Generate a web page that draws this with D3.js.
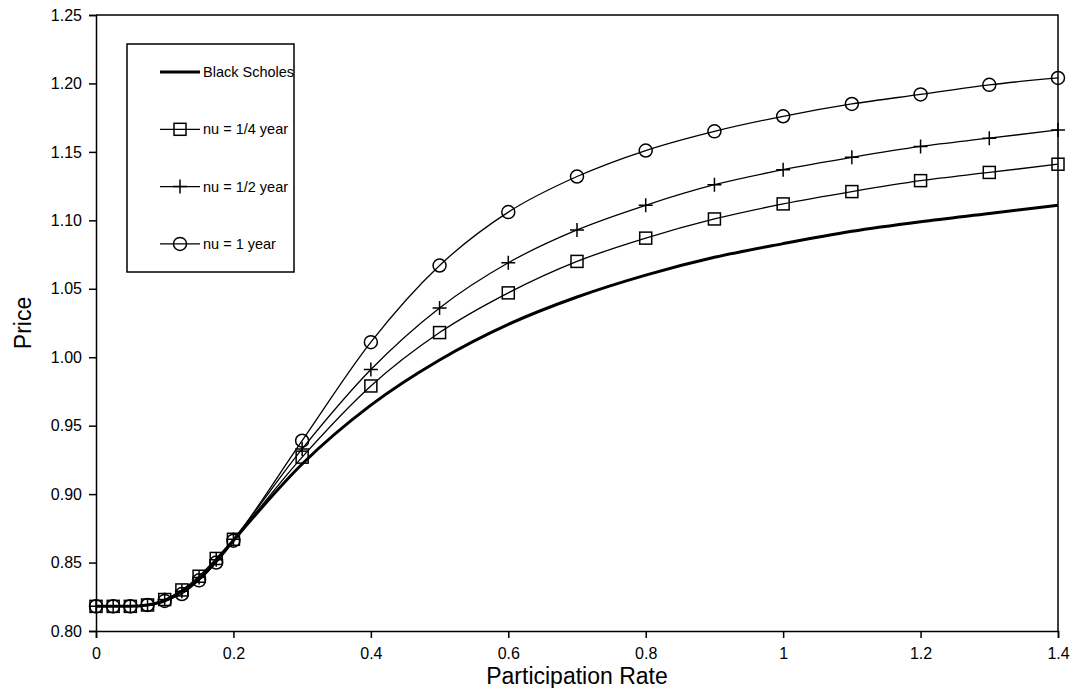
<!DOCTYPE html>
<html>
<head>
<meta charset="utf-8">
<script src="https://cdn.jsdelivr.net/npm/d3@7"></script>
<style>
  body { margin: 0; background: #fff; }
  text { font-family: Arial, "Liberation Sans", sans-serif; fill: #000; }
</style>
</head>
<body>
<svg id="chart" width="1071" height="688"></svg>
<script>
// participation rates
var rates = [0, 0.025, 0.05, 0.075, 0.1, 0.125, 0.15, 0.175, 0.2, 0.3, 0.4, 0.5, 0.6, 0.7, 0.8, 0.9, 1.0, 1.1, 1.2, 1.3, 1.4];

var blackScholes = [0.818, 0.818, 0.818, 0.819, 0.822, 0.829, 0.838, 0.851, 0.866, 0.922, 0.965, 0.998, 1.024, 1.044, 1.060, 1.073, 1.083, 1.092, 1.099, 1.105, 1.111];
var nuQuarter = [0.818, 0.818, 0.818, 0.819, 0.823, 0.830, 0.840, 0.853, 0.867, 0.927, 0.979, 1.018, 1.047, 1.070, 1.087, 1.101, 1.112, 1.121, 1.129, 1.135, 1.141];
var nuHalf = [0.818, 0.818, 0.818, 0.819, 0.823, 0.829, 0.839, 0.852, 0.867, 0.933, 0.991, 1.036, 1.069, 1.093, 1.111, 1.126, 1.137, 1.146, 1.154, 1.160, 1.166];
var nuOne = [0.818, 0.818, 0.818, 0.819, 0.822, 0.827, 0.837, 0.850, 0.866, 0.939, 1.011, 1.067, 1.106, 1.132, 1.151, 1.165, 1.176, 1.185, 1.192, 1.199, 1.204];

var xTicks = [0, 0.2, 0.4, 0.6, 0.8, 1, 1.2, 1.4];
var yTicks = [0.80, 0.85, 0.90, 0.95, 1.00, 1.05, 1.10, 1.15, 1.20, 1.25];

var series = [
  { name: "Black Scholes", values: blackScholes, marker: "none", width: 3 },
  { name: "nu = 1/4 year", values: nuQuarter, marker: "square", width: 1.3 },
  { name: "nu = 1/2 year", values: nuHalf, marker: "plus", width: 1.3 },
  { name: "nu = 1 year", values: nuOne, marker: "circle", width: 1.3 }
];

var svg = d3.select("#chart");
var margin = { left: 96, top: 15, right: 1058, bottom: 631 };

var x = d3.scaleLinear().domain([0, 1.4]).range([margin.left, margin.right]);
var y = d3.scaleLinear().domain([0.8, 1.25]).range([margin.bottom, margin.top]);

// axes
svg.append("g")
    .attr("transform", "translate(0," + margin.bottom + ")")
    .call(d3.axisBottom(x).tickValues(xTicks).tickSize(7).tickPadding(10).tickFormat(d3.format("")))
    .call(function (g) {
        g.select(".domain").attr("stroke-width", 1.5);
        g.selectAll(".tick line").attr("stroke-width", 1.5);
        g.selectAll("text").style("font-size", "16px").attr("font-family", null);
    });

svg.append("g")
    .attr("transform", "translate(" + margin.left + ",0)")
    .call(d3.axisLeft(y).tickValues(yTicks).tickSize(7).tickPadding(7).tickFormat(d3.format(".2f")))
    .call(function (g) {
        g.select(".domain").attr("stroke-width", 1.5);
        g.selectAll(".tick line").attr("stroke-width", 1.5);
        g.selectAll("text").style("font-size", "16px").attr("font-family", null);
    });

// frame top/right
svg.append("path")
    .attr("d", "M" + margin.left + "," + margin.top + "H" + margin.right + "V" + margin.bottom)
    .attr("fill", "none").attr("stroke", "#000").attr("stroke-width", 1.5);

// axis titles
svg.append("text")
    .attr("x", (margin.left + margin.right) / 2)
    .attr("y", 684)
    .attr("text-anchor", "middle")
    .style("font-size", "23px")
    .text("Participation Rate");

svg.append("text")
    .attr("transform", "translate(31," + ((margin.top + margin.bottom) / 2) + ") rotate(-90)")
    .attr("text-anchor", "middle")
    .style("font-size", "23px")
    .text("Price");

var line = d3.line()
    .x(function (d, i) { return x(rates[i]); })
    .y(function (d) { return y(d); })
    .curve(d3.curveMonotoneX);

function drawMarker(g, type, cx, cy) {
    if (type === "square") {
        g.append("rect").attr("x", cx - 6).attr("y", cy - 6).attr("width", 12).attr("height", 12)
            .attr("fill", "none").attr("stroke", "#000").attr("stroke-width", 1.5);
    } else if (type === "circle") {
        g.append("circle").attr("cx", cx).attr("cy", cy).attr("r", 6.5)
            .attr("fill", "none").attr("stroke", "#000").attr("stroke-width", 1.5);
    } else if (type === "plus") {
        g.append("path").attr("d", "M" + (cx - 7) + "," + cy + "H" + (cx + 7) + "M" + cx + "," + (cy - 7) + "V" + (cy + 7))
            .attr("stroke", "#000").attr("stroke-width", 1.5);
    }
}

// draw series (Black Scholes last so it sits on top)
series.slice().reverse().forEach(function (s) {
    svg.append("path")
        .datum(s.values)
        .attr("d", line)
        .attr("fill", "none")
        .attr("stroke", "#000")
        .attr("stroke-width", s.width);
    var mg = svg.append("g");
    s.values.forEach(function (v, i) {
        drawMarker(mg, s.marker, x(rates[i]), y(v));
    });
});

// legend
var legend = svg.append("g");
legend.append("rect")
    .attr("x", 127).attr("y", 44).attr("width", 167).attr("height", 228)
    .attr("fill", "#fff").attr("stroke", "#000").attr("stroke-width", 1.5);

series.forEach(function (s, i) {
    var ly = 72 + i * 57.3;
    legend.append("line")
        .attr("x1", 160).attr("x2", 200).attr("y1", ly).attr("y2", ly)
        .attr("stroke", "#000").attr("stroke-width", s.width);
    drawMarker(legend, s.marker, 180, ly);
    legend.append("text")
        .attr("x", 203).attr("y", ly).attr("dy", "0.35em")
        .style("font-size", "14.5px")
        .text(s.name);
});
</script>
</body>
</html>
